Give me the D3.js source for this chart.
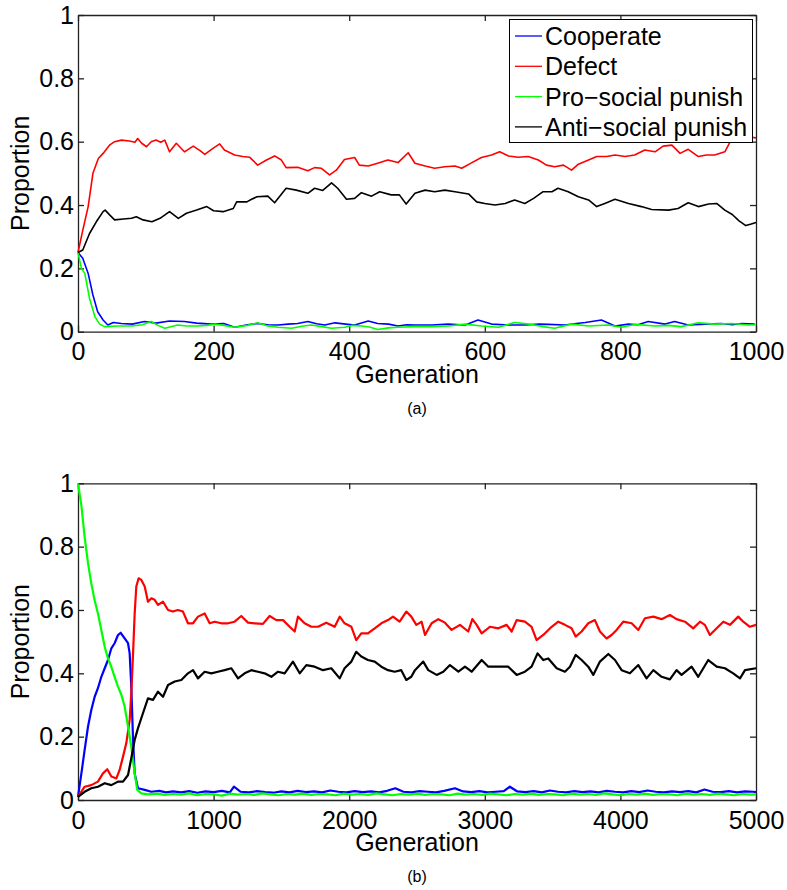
<!DOCTYPE html>
<html>
<head>
<meta charset="utf-8">
<script src="https://cdn.jsdelivr.net/npm/d3@7"></script>
<style>
  body { margin: 0; background: #fff; }
  text { font-family: "Liberation Sans", Arial, Helvetica, sans-serif; }
</style>
</head>
<body>
<svg id="fig" width="787" height="890"></svg>
<script>
// series names and colours
const names = ["Cooperate", "Defect", "Pro\u2212social punish", "Anti\u2212social punish"];
const colors = ["#0000ff", "#ff0000", "#00ff00", "#000000"];

const yTicks = [0, 0.2, 0.4, 0.6, 0.8, 1];
const xTicksA = [0, 200, 400, 600, 800, 1000];
const xTicksB = [0, 1000, 2000, 3000, 4000, 5000];

// panel (a): [generation, proportion]
const coopA = [[0,.25],[7,.232],[15,.184],[22,.116],[29,.063],[37,.037],[44,.021],[52,.029],[64,.026],[80,.024],[98,.032],[115,.027],[135,.034],[157,.032],[175,.027],[197,.024],[215,.026],[231,.014],[250,.022],[265,.026],[280,.022],[295,.021],[310,.024],[324,.026],[339,.032],[352,.025],[364,.021],[379,.028],[395,.024],[408,.021],[428,.034],[442,.026],[458,.024],[472,.018],[485,.022],[497,.021],[522,.021],[546,.024],[571,.021],[590,.037],[610,.024],[635,.021],[659,.021],[680,.024],[694,.023],[718,.021],[735,.026],[748,.029],[772,.037],[792,.018],[812,.024],[826,.022],[841,.032],[866,.024],[880,.032],[900,.021],[925,.024],[949,.026],[965,.022],[979,.026],[998,.024]];
const defectA = [[0,.25],[7,.32],[15,.395],[22,.5],[30,.547],[37,.563],[47,.59],[54,.6],[64,.605],[76,.602],[84,.598],[88,.61],[94,.595],[101,.584],[108,.6],[115,.605],[122,.598],[128,.605],[135,.568],[145,.595],[157,.568],[170,.586],[180,.572],[187,.56],[199,.579],[209,.593],[216,.574],[231,.558],[243,.553],[253,.551],[265,.526],[278,.542],[290,.555],[300,.542],[307,.518],[324,.519],[339,.508],[349,.518],[359,.516],[371,.495],[381,.51],[393,.544],[408,.55],[415,.526],[428,.523],[442,.532],[457,.542],[472,.534],[487,.565],[497,.532],[512,.523],[526,.516],[541,.521],[556,.523],[566,.516],[581,.534],[595,.55],[610,.558],[622,.568],[635,.555],[649,.551],[664,.553],[679,.542],[691,.526],[703,.521],[716,.526],[728,.51],[738,.529],[753,.542],[765,.553],[780,.553],[792,.558],[807,.553],[821,.558],[836,.574],[851,.568],[863,.586],[876,.589],[888,.563],[900,.576],[915,.553],[927,.558],[939,.558],[954,.568],[962,.6],[969,.616],[980,.625],[990,.615],[1000,.612]];
const proA = [[0,.25],[5,.2],[10,.184],[17,.105],[25,.047],[32,.024],[39,.016],[59,.018],[79,.018],[95,.022],[108,.032],[118,.02],[128,.011],[147,.021],[160,.018],[177,.018],[190,.02],[202,.024],[215,.02],[231,.014],[250,.02],[265,.028],[280,.018],[295,.014],[315,.011],[330,.017],[344,.021],[360,.016],[374,.011],[393,.014],[405,.02],[418,.018],[430,.015],[442,.007],[458,.012],[472,.014],[497,.016],[522,.016],[546,.018],[571,.024],[595,.018],[620,.014],[644,.029],[669,.023],[686,.016],[703,.011],[728,.024],[753,.018],[782,.021],[802,.014],[821,.023],[851,.018],[870,.02],[890,.016],[915,.028],[939,.024],[964,.026],[989,.021],[1000,.022]];
const antiA = [[0,.25],[7,.258],[17,.31],[27,.347],[37,.379],[40,.384],[47,.368],[54,.353],[67,.356],[79,.358],[86,.363],[96,.353],[109,.347],[121,.358],[135,.379],[148,.358],[160,.374],[175,.384],[190,.395],[200,.382],[214,.379],[229,.389],[234,.41],[249,.41],[256,.418],[264,.426],[280,.428],[290,.407],[307,.453],[322,.447],[339,.437],[349,.453],[361,.446],[374,.47],[383,.453],[396,.418],[408,.421],[418,.439],[433,.428],[445,.442],[462,.432],[474,.432],[484,.403],[497,.437],[512,.447],[526,.442],[541,.447],[556,.442],[576,.435],[588,.41],[600,.405],[615,.4],[630,.405],[644,.416],[659,.405],[672,.421],[686,.442],[699,.442],[708,.453],[723,.442],[738,.426],[753,.416],[765,.395],[777,.405],[792,.418],[812,.405],[831,.395],[846,.386],[871,.384],[885,.389],[900,.407],[915,.395],[930,.403],[942,.405],[954,.384],[965,.37],[975,.35],[985,.335],[993,.34],[1000,.345]];

// panel (b)
const coopB = [[0,.01],[25,.084],[49,.158],[74,.232],[98,.284],[123,.326],[147,.353],[172,.389],[197,.416],[221,.442],[246,.479],[270,.495],[295,.521],[315,.528],[344,.51],[369,.495],[381,.463],[393,.358],[406,.19],[418,.084],[442,.037],[492,.032],[540,.026],[600,.029],[650,.024],[700,.027],[760,.024],[820,.028],[880,.023],[940,.027],[1000,.025],[1060,.029],[1120,.024],[1150,.042],[1200,.026],[1260,.024],[1320,.028],[1380,.025],[1440,.023],[1500,.027],[1560,.024],[1620,.029],[1680,.025],[1740,.027],[1800,.024],[1860,.03],[1920,.026],[1980,.024],[2040,.028],[2100,.025],[2160,.027],[2220,.024],[2280,.029],[2340,.037],[2400,.026],[2460,.024],[2520,.028],[2580,.026],[2640,.024],[2700,.029],[2780,.037],[2840,.027],[2900,.025],[2960,.028],[3020,.024],[3080,.026],[3140,.028],[3185,.042],[3240,.027],[3300,.025],[3360,.028],[3420,.024],[3480,.03],[3540,.026],[3600,.024],[3660,.028],[3720,.025],[3780,.027],[3840,.024],[3900,.029],[3960,.026],[4020,.024],[4080,.028],[4140,.025],[4200,.03],[4260,.026],[4320,.024],[4380,.027],[4440,.025],[4500,.028],[4560,.024],[4620,.033],[4680,.026],[4740,.025],[4800,.028],[4860,.024],[4920,.027],[4980,.026],[5000,.025]];
const defectB = [[0,.01],[49,.042],[98,.047],[147,.058],[184,.084],[216,.097],[246,.074],[283,.068],[307,.095],[332,.137],[356,.179],[381,.253],[393,.337],[406,.463],[418,.589],[430,.674],[447,.7],[467,.695],[492,.674],[516,.626],[541,.637],[565,.632],[590,.616],[627,.626],[664,.6],[700,.595],[737,.6],[774,.595],[811,.558],[848,.558],[885,.579],[934,.589],[971,.558],[1008,.563],[1057,.558],[1106,.558],[1155,.563],[1204,.581],[1254,.56],[1303,.558],[1364,.556],[1413,.581],[1463,.568],[1512,.568],[1561,.547],[1598,.532],[1622,.579],[1671,.558],[1721,.547],[1770,.547],[1831,.56],[1893,.547],[1930,.579],[1966,.558],[2016,.547],[2052,.505],[2089,.526],[2138,.526],[2188,.542],[2237,.558],[2286,.568],[2323,.579],[2372,.563],[2421,.595],[2458,.579],[2495,.553],[2534,.563],[2559,.521],[2608,.558],[2657,.571],[2706,.56],[2755,.537],[2817,.553],[2878,.532],[2908,.571],[2940,.553],[2977,.526],[3038,.547],[3100,.542],[3161,.553],[3198,.532],[3235,.568],[3296,.563],[3345,.547],[3382,.505],[3431,.521],[3493,.547],[3542,.563],[3591,.553],[3640,.542],[3670,.516],[3714,.532],[3763,.558],[3812,.568],[3849,.532],[3898,.51],[3935,.521],[3972,.537],[4021,.563],[4083,.558],[4132,.537],[4181,.574],[4243,.579],[4304,.571],[4365,.584],[4414,.571],[4476,.563],[4537,.542],[4587,.563],[4623,.553],[4660,.521],[4697,.537],[4759,.563],[4808,.553],[4869,.579],[4906,.563],[4955,.547],[5000,.553]];
const proB = [[0,1],[25,.93],[49,.83],[74,.747],[98,.684],[123,.63],[147,.589],[172,.537],[197,.484],[221,.447],[246,.42],[270,.389],[295,.358],[320,.332],[344,.295],[369,.232],[393,.168],[418,.084],[437,.032],[467,.021],[520,.018],[580,.02],[640,.016],[700,.019],[760,.017],[820,.021],[880,.015],[940,.019],[1000,.018],[1060,.014],[1120,.02],[1180,.017],[1240,.019],[1300,.016],[1360,.021],[1420,.018],[1480,.015],[1540,.019],[1600,.017],[1660,.02],[1720,.016],[1780,.019],[1840,.018],[1900,.015],[1960,.02],[2020,.017],[2080,.019],[2140,.016],[2200,.021],[2260,.018],[2320,.015],[2380,.019],[2440,.017],[2500,.02],[2560,.016],[2620,.019],[2680,.018],[2740,.015],[2800,.02],[2860,.017],[2920,.019],[2980,.016],[3040,.02],[3100,.018],[3160,.015],[3220,.019],[3280,.017],[3340,.02],[3400,.016],[3460,.019],[3520,.018],[3580,.015],[3640,.02],[3700,.017],[3760,.019],[3820,.016],[3880,.021],[3940,.018],[4000,.015],[4060,.019],[4120,.017],[4180,.02],[4240,.016],[4300,.019],[4360,.018],[4420,.015],[4480,.02],[4540,.017],[4600,.019],[4660,.016],[4720,.02],[4780,.018],[4840,.015],[4900,.019],[4960,.017],[5000,.018]];
const antiB = [[0,.01],[49,.026],[98,.037],[147,.042],[197,.053],[246,.047],[295,.058],[332,.058],[369,.079],[393,.132],[418,.19],[442,.226],[479,.274],[516,.321],[553,.316],[590,.342],[627,.326],[664,.363],[713,.374],[762,.379],[811,.4],[848,.41],[885,.384],[934,.405],[983,.4],[1032,.405],[1081,.41],[1131,.416],[1180,.384],[1229,.4],[1278,.41],[1327,.405],[1376,.4],[1426,.389],[1475,.405],[1524,.4],[1585,.437],[1635,.4],[1684,.426],[1745,.421],[1807,.41],[1868,.416],[1930,.384],[1966,.416],[2016,.437],[2052,.468],[2089,.453],[2138,.442],[2188,.437],[2237,.421],[2286,.41],[2335,.405],[2384,.41],[2421,.379],[2458,.389],[2485,.41],[2546,.437],[2583,.41],[2645,.395],[2694,.405],[2743,.426],[2805,.405],[2854,.421],[2903,.405],[2977,.442],[3026,.421],[3100,.421],[3173,.421],[3235,.395],[3296,.405],[3345,.421],[3389,.463],[3431,.442],[3468,.447],[3530,.416],[3591,.405],[3628,.421],[3670,.458],[3714,.442],[3763,.421],[3800,.395],[3849,.437],[3911,.461],[3960,.442],[4009,.41],[4070,.4],[4132,.426],[4193,.384],[4243,.41],[4304,.389],[4365,.381],[4414,.41],[4451,.395],[4525,.421],[4574,.389],[4648,.442],[4710,.421],[4771,.416],[4832,.4],[4882,.384],[4919,.41],[5000,.416]];

const svg = d3.select("#fig");
const left = 78, right = 756;

function panel(top, bottom, xMax, xTicks, series, widths, caption, legend) {
  const x = d3.scaleLinear().domain([0, xMax]).range([left, right]);
  const y = d3.scaleLinear().domain([0, 1]).range([bottom, top]);
  const g = svg.append("g");

  // ticks on all four sides, pointing inward
  g.append("g").attr("transform", `translate(0,${bottom})`)
    .call(d3.axisBottom(x).tickValues(xTicks).tickSizeInner(-6).tickSizeOuter(0).tickPadding(11).tickFormat(d3.format("d")));
  g.append("g").attr("transform", `translate(0,${top})`)
    .call(d3.axisTop(x).tickValues(xTicks).tickSizeInner(-6).tickSizeOuter(0).tickFormat(""));
  g.append("g").attr("transform", `translate(${left},0)`)
    .call(d3.axisLeft(y).tickValues(yTicks).tickSizeInner(-6).tickSizeOuter(0).tickPadding(4).tickFormat(d => String(d)));
  g.append("g").attr("transform", `translate(${right},0)`)
    .call(d3.axisRight(y).tickValues(yTicks).tickSizeInner(-6).tickSizeOuter(0).tickFormat(""));
  g.selectAll(".tick text").attr("font-size", 25).attr("fill", "#000")
    .attr("font-family", "Liberation Sans, Arial, sans-serif");
  g.selectAll(".domain, .tick line").attr("stroke", "#222").attr("stroke-width", 1.3);

  const line = d3.line().x(d => x(d[0])).y(d => y(d[1]));
  series.forEach((s, i) => {
    g.append("path").datum(s).attr("d", line).attr("fill", "none")
      .attr("stroke", colors[i]).attr("stroke-width", widths[i]).attr("stroke-linejoin", "round");
  });

  g.append("text").attr("x", (left + right) / 2).attr("y", bottom + 51)
    .attr("text-anchor", "middle").attr("font-size", 25).text("Generation");
  g.append("text").attr("transform", `translate(29,${(top + bottom) / 2}) rotate(-90)`)
    .attr("text-anchor", "middle").attr("font-size", 25).text("Proportion");
  g.append("text").attr("x", (left + right) / 2).attr("y", bottom + 82)
    .attr("text-anchor", "middle").attr("font-size", 16)
    .attr("font-family", "DejaVu Serif, Liberation Serif, serif").text(caption);

  if (legend) {
    const lg = g.append("g");
    lg.append("rect").attr("x", 509.5).attr("y", 19.5).attr("width", 243).attr("height", 123)
      .attr("fill", "#fff").attr("stroke", "#000").attr("stroke-width", 1);
    names.forEach((n, i) => {
      const cy = 36 + i * 30.3;
      lg.append("line").attr("x1", 515).attr("x2", 542).attr("y1", cy).attr("y2", cy)
        .attr("stroke", colors[i]).attr("stroke-width", 1.3);
      lg.append("text").attr("x", 545).attr("y", cy + 9).attr("font-size", 25).text(n);
    });
  }
}

panel(15, 331.7, 1000, xTicksA, [coopA, defectA, proA, antiA], [1.6, 1.6, 1.6, 1.6], "(a)", true);
panel(483.3, 800, 5000, xTicksB, [coopB, defectB, proB, antiB], [2.2, 2.2, 2.2, 2.2], "(b)", false);
</script>
</body>
</html>
